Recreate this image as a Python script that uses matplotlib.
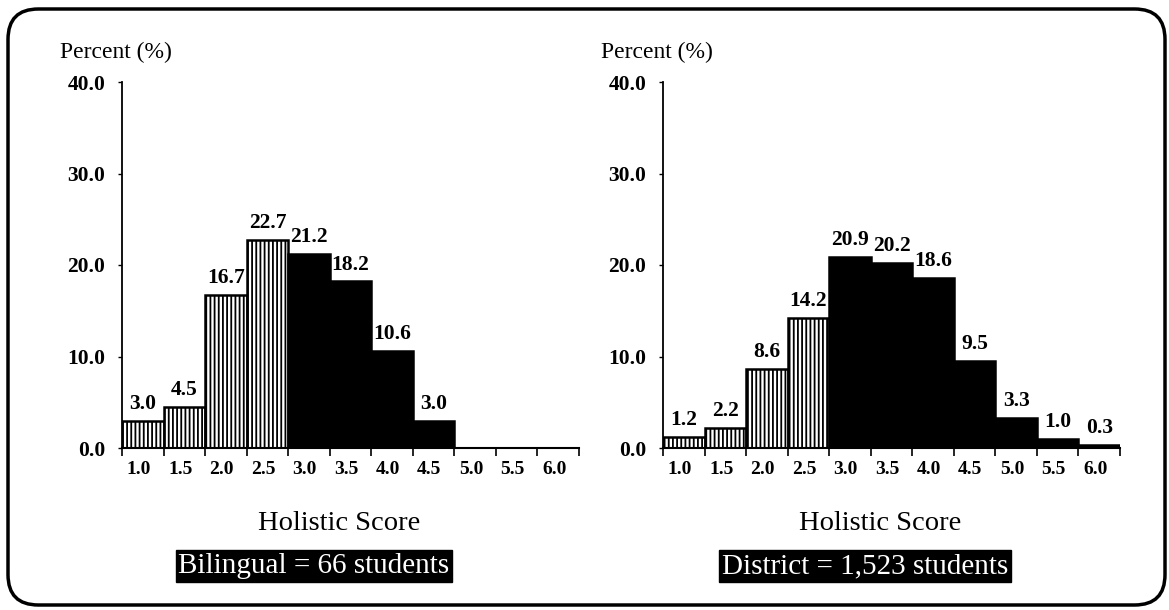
import matplotlib
matplotlib.use("Agg")
import matplotlib.pyplot as plt
from matplotlib.patches import FancyBboxPatch

# Holistic score categories and percentage of students at each score
scores = ["1.0", "1.5", "2.0", "2.5", "3.0", "3.5", "4.0", "4.5", "5.0", "5.5", "6.0"]
bilingual_pct = [3.0, 4.5, 16.7, 22.7, 21.2, 18.2, 10.6, 3.0, 0.0, 0.0, 0.0]
district_pct = [1.2, 2.2, 8.6, 14.2, 20.9, 20.2, 18.6, 9.5, 3.3, 1.0, 0.3]
yticks = [0.0, 10.0, 20.0, 30.0, 40.0]
bilingual_caption = "Bilingual = 66 students"
district_caption = "District = 1,523 students"
# scores below this value are drawn hatched, the rest solid black
solid_from = 3.0

plt.rcParams["font.family"] = ["Liberation Serif", "DejaVu Serif"]
plt.rcParams["hatch.linewidth"] = 1.3
plt.rcParams["hatch.color"] = "black"

fig = plt.figure(figsize=(11.69, 6.10), dpi=100)

# rounded frame around both panels
frame = FancyBboxPatch((8 / 1169, 5 / 610), 1157 / 1169, 596 / 610,
                       boxstyle="round,pad=0,rounding_size=0.026",
                       transform=fig.transFigure, fill=False,
                       edgecolor="black", linewidth=2.5,
                       mutation_aspect=1169 / 610)
fig.patches.append(frame)


def draw_panel(left, values, caption, caption_x):
    ax = fig.add_axes([left, 1 - 448 / 610, 457 / 1169, 366 / 610])
    n = len(values)
    xs = list(range(n))
    for x, v, s in zip(xs, values, scores):
        if v <= 0:
            continue
        solid = float(s) >= solid_from
        ax.bar(x + 0.5, v, width=1.0,
               facecolor="black" if solid else "white",
               edgecolor="black", linewidth=1.8,
               hatch=None if solid else "||||", zorder=2)
        ax.annotate(f"{v:.1f}", (x + 0.5, v), xytext=(0, 5),
                    textcoords="offset points", ha="center", va="bottom",
                    fontsize=15.5, fontweight="bold", zorder=3)
    ax.set_xlim(0, n)
    ax.set_ylim(0, 40)
    ax.set_xticks(range(n + 1))
    ax.set_xticklabels([])
    ax.set_xticks([x + 0.4 for x in xs], minor=True)
    ax.set_xticklabels(scores, minor=True, fontsize=14, fontweight="bold")
    ax.tick_params(axis="x", which="major", direction="out", length=6,
                   width=1.2)
    ax.tick_params(axis="x", which="minor", length=0, pad=9)
    ax.set_yticks(yticks)
    ax.set_yticklabels([f"{t:.1f}" for t in yticks], fontsize=15.5,
                       fontweight="bold")
    ax.tick_params(axis="y", direction="out", length=3, width=1, pad=9)
    for side in ("top", "right"):
        ax.spines[side].set_visible(False)
    ax.spines["left"].set_linewidth(1.3)
    ax.spines["bottom"].set_linewidth(1.5)
    ax.patch.set_alpha(0)
    ax.text(-0.136, 1.08, "Percent (%)", transform=ax.transAxes,
            fontsize=17, ha="left", va="center")
    ax.text(0.475, -0.205, "Holistic Score", transform=ax.transAxes,
            fontsize=20.5, ha="center", va="center")
    fig.text(caption_x, 1 - 566 / 610, caption, fontsize=21, color="white",
             ha="center", va="center",
             bbox=dict(facecolor="black", edgecolor="black", pad=2.0))
    return ax


draw_panel(122 / 1169, bilingual_pct, bilingual_caption, 314 / 1169)
draw_panel(663 / 1169, district_pct, district_caption, 865 / 1169)

fig.savefig("out.png", dpi=100)
